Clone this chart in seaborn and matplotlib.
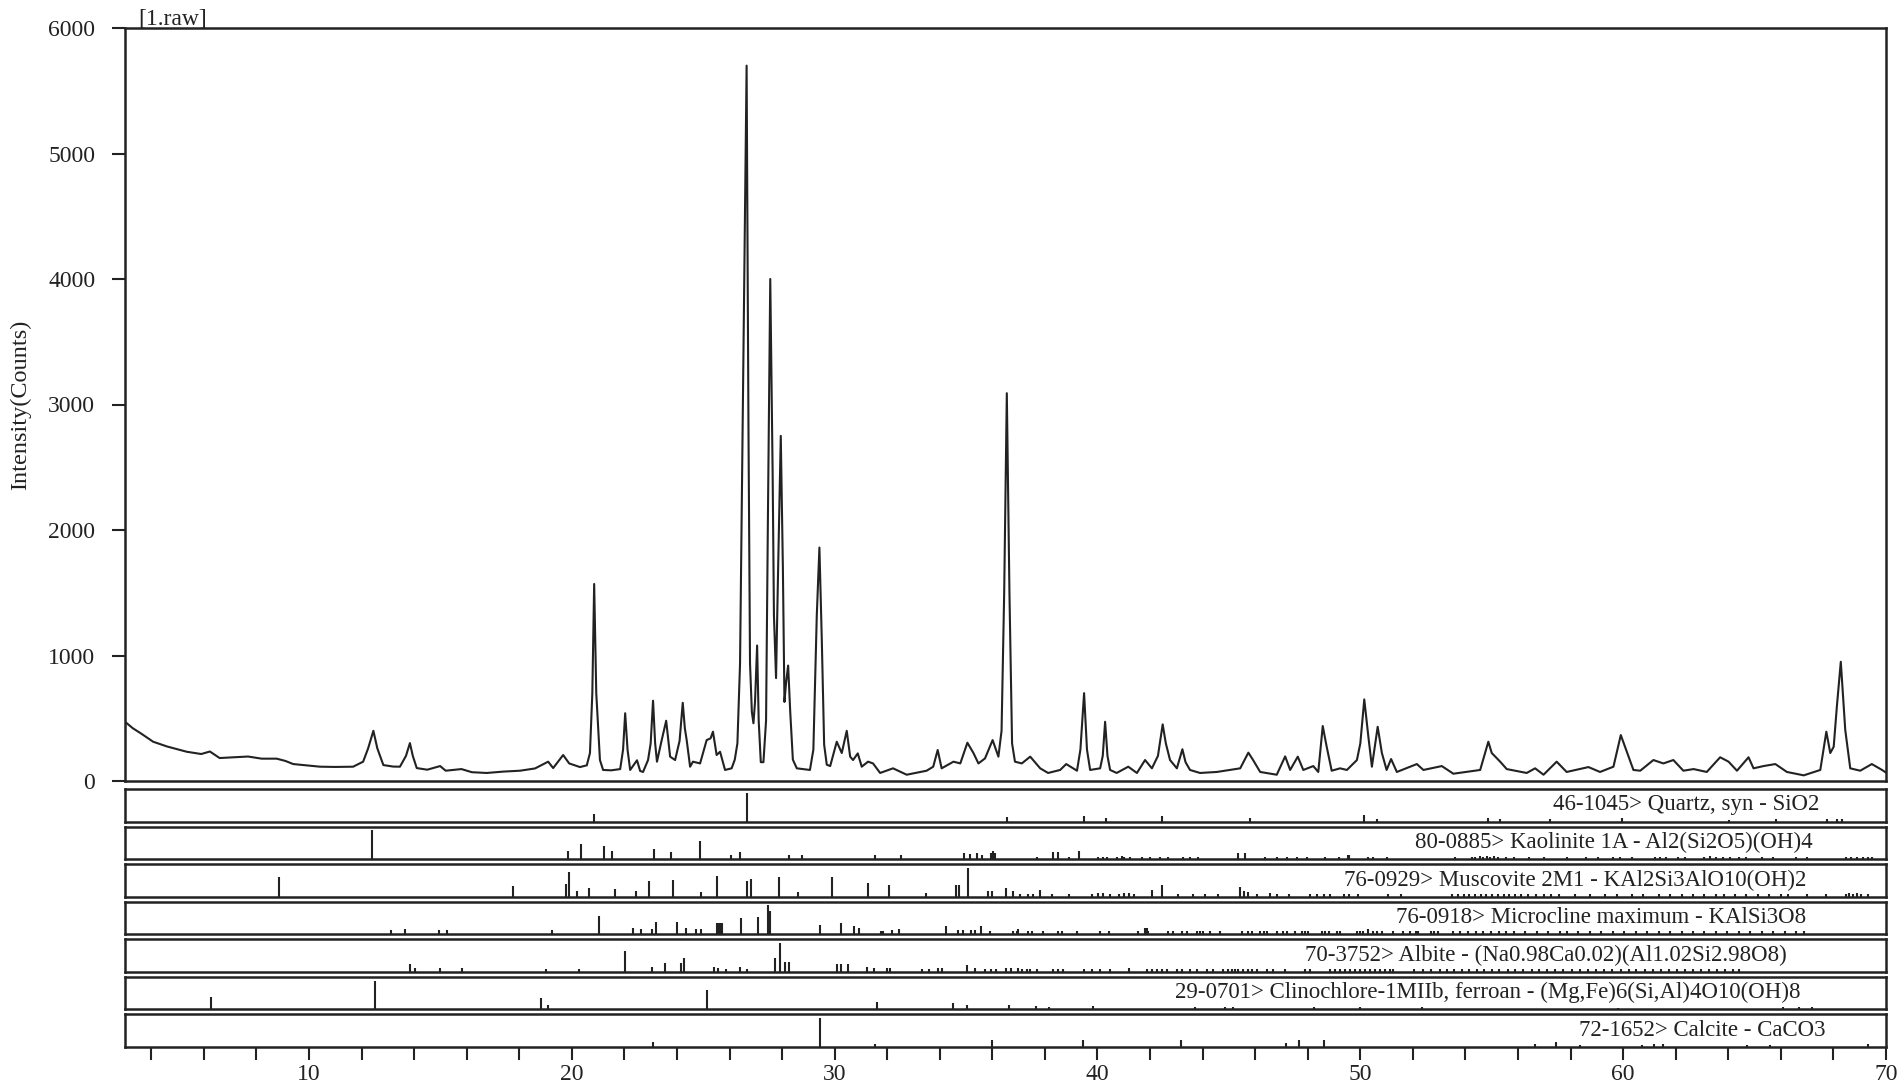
import numpy as np
import pandas as pd
import seaborn as sns
import matplotlib
matplotlib.use("Agg")
import matplotlib.pyplot as plt
from matplotlib.ticker import MultipleLocator, FixedLocator

two_theta = [
    3.00, 3.30, 3.60, 4.07, 4.60, 5.35, 5.90, 6.23, 6.60, 7.20, 7.68, 8.20, 8.77, 9.10, 9.40,
    9.90, 10.42, 11.00, 11.68, 12.06, 12.25, 12.45, 12.60, 12.83, 13.20, 13.46, 13.69, 13.84,
    13.95, 14.10, 14.50, 14.99, 15.20, 15.80, 16.20, 16.76, 17.40, 18.03, 18.60, 19.10, 19.29,
    19.50, 19.67, 19.90, 20.31, 20.57, 20.69, 20.78, 20.85, 20.93, 21.07, 21.19, 21.50, 21.84,
    21.95, 22.03, 22.12, 22.22, 22.48, 22.60, 22.71, 22.90, 23.00, 23.09, 23.17, 23.24, 23.42,
    23.59, 23.67, 23.74, 23.93, 24.10, 24.22, 24.30, 24.37, 24.50, 24.61, 24.88, 25.13, 25.28,
    25.37, 25.51, 25.64, 25.83, 26.08, 26.20, 26.30, 26.40, 26.50, 26.65, 26.72, 26.78, 26.85,
    26.91, 26.97, 27.05, 27.11, 27.19, 27.29, 27.39, 27.46, 27.55, 27.64, 27.69, 27.77, 27.85,
    27.95, 28.03, 28.09, 28.15, 28.23, 28.31, 28.41, 28.56, 29.06, 29.19, 29.32, 29.42, 29.51,
    29.60, 29.70, 29.83, 30.08, 30.27, 30.46, 30.59, 30.70, 30.88, 31.03, 31.27, 31.46, 31.73,
    32.22, 32.74, 33.50, 33.75, 33.92, 34.07, 34.52, 34.78, 35.05, 35.28, 35.47, 35.72, 36.01,
    36.23, 36.35, 36.45, 36.55, 36.65, 36.75, 36.86, 37.12, 37.44, 37.82, 38.12, 38.58, 38.81,
    39.22, 39.35, 39.49, 39.60, 39.72, 40.10, 40.20, 40.29, 40.38, 40.48, 40.73, 41.17, 41.50,
    41.81, 42.07, 42.30, 42.48, 42.60, 42.76, 43.02, 43.23, 43.35, 43.52, 43.90, 44.54, 45.43,
    45.74, 45.92, 46.19, 46.82, 47.14, 47.33, 47.62, 47.83, 48.21, 48.40, 48.57, 48.72, 48.91,
    49.23, 49.49, 49.87, 50.00, 50.15, 50.31, 50.44, 50.66, 50.82, 51.00, 51.17, 51.39, 52.15,
    52.40, 53.10, 53.54, 54.56, 54.87, 55.00, 55.32, 55.57, 56.33, 56.65, 56.97, 57.47, 57.85,
    58.68, 59.12, 59.63, 59.91, 60.14, 60.39, 60.65, 61.15, 61.53, 61.91, 62.29, 62.68, 63.18,
    63.69, 64.01, 64.33, 64.77, 64.96, 65.34, 65.79, 66.23, 66.87, 67.50, 67.73, 67.88, 68.01,
    68.13, 68.28, 68.45, 68.64, 69.02, 69.46, 69.85, 70.00,
]
counts = [
    472, 420, 380, 313, 275, 233, 215, 235, 183, 190, 195, 178, 178, 160, 135,
    125, 114, 112, 114, 154, 260, 400, 260, 127, 115, 114, 200, 302,
    200, 103, 90, 119, 82, 95, 70, 64, 75, 82, 100, 154, 103,
    160, 207, 140, 111, 125, 223, 700, 1570, 700, 167, 88, 85, 95,
    250, 540, 250, 88, 165, 80, 72, 167, 300, 640, 300, 154, 326,
    480, 330, 194, 167, 320, 623, 420, 326, 114, 154, 140, 326, 340,
    393, 207, 233, 88, 101, 170, 300, 935, 2840, 5700, 2840, 935, 550,
    460, 630, 1080, 480, 150, 150, 480, 2080, 4000, 2460, 1320, 820, 1700,
    2750, 1700, 630, 780, 920, 550, 170, 101, 88, 250, 1320, 1860, 1130,
    290, 130, 119, 313, 223, 400, 194, 167, 220, 114, 154, 140, 64,
    101, 50, 82, 114, 247, 101, 154, 140, 305, 223, 140, 180, 326,
    194, 400, 1500, 3090, 1500, 300, 154, 140, 194, 101, 64, 88, 135,
    82, 250, 700, 250, 88, 101, 200, 472, 200, 88, 64, 114, 64,
    167, 101, 200, 451, 300, 167, 101, 253, 150, 88, 64, 72, 101,
    226, 167, 72, 50, 196, 88, 194, 88, 119, 72, 438, 273, 82,
    101, 88, 167, 300, 650, 345, 114, 432, 223, 88, 175, 72, 135,
    88, 119, 58, 88, 313, 223, 154, 95, 64, 101, 50, 154, 72,
    111, 72, 114, 366, 233, 88, 82, 167, 140, 167, 82, 95, 72,
    189, 154, 82, 189, 101, 119, 135, 72, 45, 88, 393, 223, 273,
    592, 950, 406, 101, 82, 135, 88, 67,
]

# Reference cards (stick positions and relative intensities).
quartz_pos = [20.86, 26.65, 36.55, 39.47, 40.31, 42.47, 45.81, 50.15, 50.62, 54.87, 55.32,
              57.23, 59.96, 64.02, 65.80, 67.74, 68.14, 68.32]
quartz_int = [25, 100, 17, 20, 12, 18, 12, 22, 10, 12, 8, 8, 14, 6, 8, 10, 8, 8]

kaolinite_pos = [12.39, 19.85, 20.35, 21.24, 21.52, 23.13, 23.78, 24.88, 26.05, 26.40, 28.27,
                 28.76, 31.54, 32.52, 34.94, 35.15, 35.42, 35.62, 35.94, 36.01, 36.10, 37.69,
                 38.32, 38.51, 38.93, 39.28, 40.02, 40.21, 40.37, 40.73, 40.95, 41.01, 41.24,
                 41.69, 42.00, 42.38, 42.70, 43.27, 43.52, 43.84, 45.36, 45.62, 46.38, 46.82,
                 47.20, 47.58, 47.96, 48.66, 49.17, 49.52, 49.57, 50.31, 50.50, 51.00, 53.59,
                 54.24, 54.37, 54.56, 54.68, 54.83, 54.94, 55.10, 55.25, 55.55, 55.84, 56.42,
                 57.00, 57.87, 58.60, 59.03, 59.61, 59.89, 60.34, 61.20, 61.40, 61.63, 62.08,
                 62.36, 63.06, 63.30, 63.55, 63.80, 64.08, 64.40, 64.68, 65.27, 65.71, 66.58,
                 67.00, 68.46, 68.68, 68.90, 69.11, 69.33, 69.48]
kaolinite_int = [100, 29, 52, 45, 30, 37, 24, 64, 14, 25, 16,
                 16, 14, 16, 23, 17, 21, 16, 23, 29, 23, 9,
                 25, 25, 9, 29, 9, 9, 9, 9, 11, 9, 9,
                 9, 9, 9, 9, 9, 9, 9, 21, 21, 9, 9,
                 9, 9, 9, 9, 9, 14, 14, 9, 9, 9, 9,
                 9, 9, 10, 9, 10, 9, 10, 9, 9, 9, 9,
                 9, 9, 9, 9, 9, 9, 9, 9, 9, 9, 9,
                 9, 9, 10, 9, 9, 9, 9, 9, 9, 9, 9,
                 9, 9, 9, 9, 9, 9, 9]

muscovite_pos = [8.86, 17.78, 19.78, 19.91, 20.19, 20.67, 21.65, 22.43, 22.94, 23.84, 24.90,
                 25.54, 26.65, 26.81, 27.89, 28.62, 29.90, 31.28, 32.08, 33.48, 34.61, 34.73,
                 35.07, 35.83, 36.00, 36.51, 36.80, 37.06, 37.37, 37.56, 37.82, 38.26, 38.90,
                 39.78, 40.03, 40.22, 40.48, 40.80, 40.99, 41.18, 41.37, 42.07, 42.45, 43.08,
                 43.65, 44.10, 44.60, 45.43, 45.56, 45.74, 46.06, 46.57, 46.82, 47.27, 48.09,
                 48.35, 48.60, 48.86, 49.36, 49.55, 49.93, 51.05, 51.55, 53.50, 53.72, 53.94,
                 54.15, 54.37, 54.59, 54.80, 55.02, 55.24, 55.45, 55.67, 55.89, 56.10, 56.39,
                 56.68, 56.97, 57.26, 57.55, 58.16, 58.74, 59.32, 59.76, 60.34, 60.76, 61.35,
                 61.79, 62.22, 62.66, 63.09, 63.53, 63.82, 64.25, 64.69, 65.12, 65.56, 66.00,
                 66.29, 67.00, 67.73, 68.46, 68.60, 68.75, 68.90, 69.04, 69.33]
muscovite_int = [67, 37, 44, 84, 21, 30, 27, 19, 56, 58, 15,
                 72, 53, 62, 67, 16, 67, 49, 40, 12, 42, 40,
                 100, 19, 19, 29, 21, 10, 10, 10, 23, 10, 10,
                 10, 12, 12, 10, 10, 12, 12, 10, 23, 40, 10,
                 10, 10, 10, 35, 20, 18, 10, 12, 10, 10, 10,
                 10, 10, 10, 10, 10, 10, 10, 10, 10, 10, 10,
                 10, 10, 10, 10, 10, 10, 10, 10, 10, 10, 10,
                 10, 10, 10, 10, 10, 10, 10, 10, 10, 10, 10,
                 10, 10, 10, 10, 10, 10, 10, 10, 10, 10, 10,
                 10, 10, 10, 10, 12, 10, 12, 10, 10]

microcline_pos = [13.12, 13.65, 14.95, 15.24, 19.26, 21.04, 22.31, 22.63, 23.06, 23.20, 23.99,
                  24.35, 24.73, 24.92, 25.52, 25.58, 25.64, 25.70, 26.44, 27.09, 27.45, 27.53,
                  29.45, 30.23, 30.74, 30.94, 31.75, 31.85, 32.17, 32.46, 34.25, 34.68, 34.90,
                  35.17, 35.34, 35.56, 35.90, 36.80, 36.93, 36.99, 37.37, 37.50, 37.94, 38.51,
                  38.64, 39.21, 40.10, 40.42, 41.56, 41.81, 41.88, 41.94, 42.70, 42.89, 43.21,
                  43.40, 43.78, 43.90, 44.03, 44.28, 44.67, 45.49, 45.74, 45.87, 46.19, 46.32,
                  46.44, 46.82, 47.07, 47.20, 47.52, 47.77, 47.90, 48.02, 48.53, 48.66, 48.79,
                  49.10, 49.23, 49.87, 50.00, 50.12, 50.31, 50.50, 50.63, 50.82, 51.26, 51.64,
                  51.90, 52.10, 52.20, 52.69, 52.82, 52.95, 53.52, 53.81, 54.10, 54.39, 54.68,
                  54.97, 55.26, 55.55, 55.84, 56.27, 56.71, 57.14, 57.58, 57.87, 58.30, 58.74,
                  59.17, 59.61, 60.05, 60.48, 60.92, 61.35, 61.79, 62.22, 62.66, 63.09, 63.53,
                  63.96, 64.40, 64.84, 65.27, 65.71, 66.14, 66.58, 66.87]
microcline_int = [16, 19, 16, 16, 16, 65, 23, 17, 17, 42, 42,
                  23, 20, 17, 38, 38, 38, 38, 56, 60, 100, 81,
                  33, 38, 28, 23, 10, 10, 16, 18, 30, 16, 14,
                  14, 14, 30, 12, 10, 10, 18, 10, 10, 10, 10,
                  10, 10, 10, 10, 10, 23, 23, 12, 10, 10, 10,
                  10, 10, 10, 10, 10, 10, 10, 10, 10, 10, 10,
                  10, 10, 10, 10, 10, 10, 10, 10, 10, 10, 10,
                  10, 10, 10, 10, 10, 20, 10, 10, 10, 10, 10,
                  10, 10, 10, 10, 10, 10, 10, 10, 10, 10, 10,
                  10, 10, 10, 10, 10, 10, 10, 10, 10, 10, 10,
                  10, 10, 10, 10, 10, 10, 10, 10, 10, 10, 10,
                  10, 10, 10, 10, 10, 10, 10, 10]

albite_pos = [13.84, 14.04, 14.99, 15.84, 19.02, 20.27, 22.04, 23.06, 23.55, 24.16, 24.28,
              25.41, 25.56, 25.87, 26.40, 26.68, 27.72, 27.91, 28.11, 28.28, 30.10, 30.23,
              30.49, 31.22, 31.50, 31.98, 32.11, 33.31, 33.60, 33.92, 34.07, 35.02, 35.34,
              35.72, 35.94, 36.14, 36.52, 36.71, 36.99, 37.12, 37.31, 37.44, 37.69, 38.32,
              38.51, 38.70, 39.47, 39.78, 40.10, 40.48, 41.18, 41.88, 42.07, 42.26, 42.45,
              42.64, 43.02, 43.21, 43.52, 43.78, 44.15, 44.41, 44.79, 44.98, 45.11, 45.24,
              45.36, 45.55, 45.74, 45.87, 46.06, 46.44, 46.69, 47.13, 47.90, 48.09, 48.85,
              49.04, 49.23, 49.42, 49.61, 49.80, 49.99, 50.18, 50.37, 50.56, 50.75, 50.94,
              51.13, 51.26, 52.05, 52.40, 52.70, 53.02, 53.30, 53.55, 53.85, 54.12, 54.45,
              54.70, 55.00, 55.28, 55.60, 55.90, 56.20, 56.52, 56.80, 57.10, 57.42, 57.72,
              58.05, 58.36, 58.66, 58.95, 59.28, 59.57, 59.90, 60.21, 60.50, 60.82, 61.12,
              61.43, 61.75, 62.04, 62.35, 62.66, 62.96, 63.27, 63.58, 63.88, 64.18, 64.40]
albite_int = [26, 12, 12, 12, 10, 10, 72, 17, 30, 30, 48,
              17, 12, 10, 16, 10, 48, 100, 34, 34, 26, 26,
              26, 16, 12, 12, 12, 10, 10, 14, 14, 23, 12,
              10, 10, 10, 14, 14, 14, 10, 10, 10, 10, 10,
              10, 10, 10, 10, 10, 10, 14, 10, 10, 10, 10,
              10, 10, 10, 10, 10, 10, 10, 10, 10, 10, 10,
              10, 10, 10, 10, 10, 10, 10, 10, 10, 10, 10,
              10, 10, 10, 10, 10, 10, 10, 10, 10, 10, 10,
              10, 10, 10, 10, 10, 10, 10, 10, 10, 10, 10,
              10, 10, 10, 10, 10, 10, 10, 10, 10, 10, 10,
              10, 10, 10, 10, 10, 10, 10, 10, 10, 10, 10,
              10, 10, 10, 10, 10, 10, 10, 10, 10, 10, 10]

clinochlore_pos = [6.26, 12.51, 18.81, 19.11, 25.13, 31.63, 34.52, 35.05, 36.62, 37.67, 38.16,
                   39.82, 43.71, 44.85, 45.15, 48.22, 49.99, 52.35, 59.80, 66.07, 66.70, 67.20]
clinochlore_int = [44, 100, 40, 14, 67, 26, 21, 16, 14, 12, 8,
                   12, 8, 8, 8, 8, 8, 9, 6, 10, 8, 10]

calcite_pos = [23.08, 29.45, 31.55, 35.99, 39.44, 43.17, 47.17, 47.65, 48.60, 56.63, 57.44,
               58.34, 60.73, 61.17, 61.53, 64.70, 65.60, 69.33]
calcite_int = [19, 100, 10, 23, 25, 25, 14, 25, 25, 12, 16,
               8, 8, 10, 10, 6, 8, 10]

card_labels = [
    "46-1045> Quartz, syn - SiO2",
    "80-0885> Kaolinite 1A - Al2(Si2O5)(OH)4",
    "76-0929> Muscovite 2M1 - KAl2Si3AlO10(OH)2",
    "76-0918> Microcline maximum - KAlSi3O8",
    "70-3752> Albite - (Na0.98Ca0.02)(Al1.02Si2.98O8)",
    "29-0701> Clinochlore-1MIIb, ferroan - (Mg,Fe)6(Si,Al)4O10(OH)8",
    "72-1652> Calcite - CaCO3",
]
cards = [
    (quartz_pos, quartz_int), (kaolinite_pos, kaolinite_int),
    (muscovite_pos, muscovite_int), (microcline_pos, microcline_int),
    (albite_pos, albite_int), (clinochlore_pos, clinochlore_int),
    (calcite_pos, calcite_int),
]
label_right = [67.46, 67.20, 66.97, 66.97, 66.24, 66.74, 67.69]

sns.set_style("white")
plt.rcParams["font.family"] = ["Liberation Serif", "DejaVu Serif"]
ink = "#222222"
plt.rcParams["axes.edgecolor"] = ink
plt.rcParams["axes.linewidth"] = 1.8

W, H = 1898, 1086
fig = plt.figure(figsize=(W / 100, H / 100), dpi=100)


def px_box(left, top, right, bottom):
    return [left / W, 1 - bottom / H, (right - left) / W, (bottom - top) / H]


# Main pattern.
ax = fig.add_axes(px_box(125, 28, 1886, 781))
df = pd.DataFrame({"2theta": two_theta, "counts": counts})
sns.lineplot(data=df, x="2theta", y="counts", ax=ax, color=ink, lw=1.5,
             sort=False, estimator=None)
ax.set_xlim(3, 70)
ax.set_ylim(0, 6000)
ax.set_yticks(range(0, 6001, 1000))
ax.set_xticks([])
ax.set_xlabel("")
ax.set_ylabel("Intensity(Counts)", fontsize=17.5, labelpad=12, color=ink)
ax.tick_params(axis="y", direction="out", length=9.5, width=1.5, color=ink,
               labelsize=17, pad=12, left=True, labelcolor=ink)
fig.text(138 / W, 1 - 24 / H, "[1.raw]", fontsize=17, color=ink, va="baseline")

# Reference stick panels.
n = len(cards)
for i, ((pos, inten), label) in enumerate(zip(cards, card_labels)):
    top = 789 + i * 37.55
    pax = fig.add_axes(px_box(125, top, 1886, top + 32.7))
    pax.vlines(pos, 0, inten, color=ink, lw=1.5)
    pax.set_xlim(3, 70)
    pax.set_ylim(0, 113)
    pax.set_yticks([])
    pax.text(label_right[i], 58, label, ha="right", va="center",
             fontsize=16.5, color=ink)
    if i < n - 1:
        pax.set_xticks([])
    else:
        pax.xaxis.set_major_locator(FixedLocator([10, 20, 30, 40, 50, 60, 70]))
        pax.xaxis.set_minor_locator(MultipleLocator(2))
        pax.tick_params(axis="x", which="both", direction="out", length=9.5,
                        width=1.5, color=ink, labelsize=17, pad=3, bottom=True,
                        labelcolor=ink)

fig.savefig("out.png", dpi=100, facecolor="white")
